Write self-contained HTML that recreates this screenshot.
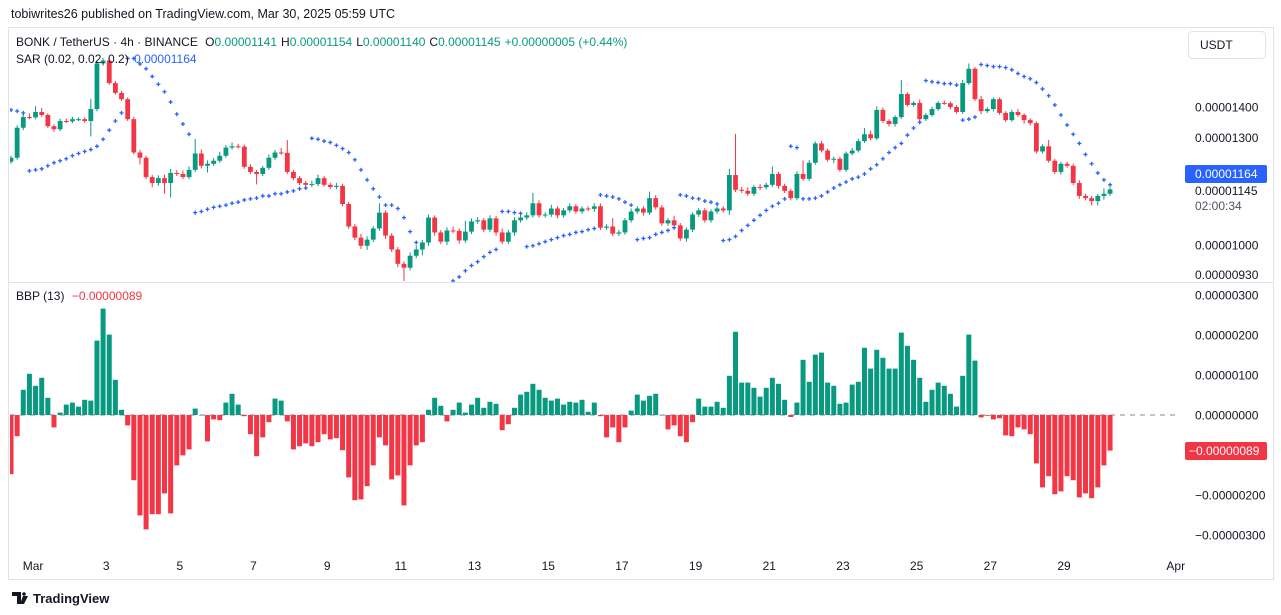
<!DOCTYPE html>
<html><head><meta charset="utf-8"><style>
html,body{margin:0;padding:0;background:#fff;width:1281px;height:615px;overflow:hidden;font-family:"Liberation Sans",sans-serif;}
svg text{font-family:"Liberation Sans",sans-serif;}
</style></head><body>
<svg id="chart" width="1281" height="615" viewBox="0 0 1281 615" xmlns="http://www.w3.org/2000/svg">
<rect x="0" y="0" width="1281" height="615" fill="#fff"/>
<text x="11" y="18" font-size="12.5" fill="#131722">tobiwrites26 published on TradingView.com, Mar 30, 2025 05:59 UTC</text>
<rect x="8.5" y="27.5" width="1265" height="552" fill="none" stroke="#e0e3eb"/>
<line x1="8" y1="282.5" x2="1273" y2="282.5" stroke="#e0e3eb"/>
<g id="pricePane"></g>
<g id="bbpPane"></g>
<g id="axes"></g>
<text x="16" y="46" font-size="12" fill="#131722">BONK / TetherUS · 4h · BINANCE <tspan dx="4">O</tspan><tspan fill="#089981">0.00001141</tspan><tspan dx="4">H</tspan><tspan fill="#089981">0.00001154</tspan><tspan dx="4">L</tspan><tspan fill="#089981">0.00001140</tspan><tspan dx="4">C</tspan><tspan fill="#089981">0.00001145</tspan><tspan dx="4" fill="#089981">+0.00000005 (+0.44%)</tspan></text>
<text x="16" y="63" font-size="12" fill="#131722">SAR (0.02, 0.02, 0.2) <tspan dx="2" fill="#2962ff">0.00001164</tspan></text>
<text x="16" y="300" font-size="12" fill="#131722">BBP (13) <tspan dx="4" fill="#f23645">−0.00000089</tspan></text>
<g><rect x="1188.5" y="31.5" width="77" height="27" rx="4" fill="#fff" stroke="#e0e3eb"/><text x="1200" y="49" font-size="12" fill="#131722">USDT</text></g>
<g><path d="M12 592h9v12h-4v-8h-5z M23 596h5l-4 8h-4z" fill="#131722"/><circle cx="24" cy="594" r="1.8" fill="#131722"/><text x="33" y="603" font-size="13" font-weight="bold" fill="#131722">TradingView</text></g>
</svg>
<script>
// ---- data (prices in units of 1e-8 USDT) ----
const closes = [1237,
1331,1366,1365,1383,1373,1336,1326,1353,1352,1359,
1359,1353,1393,1557,1568,1484,1449,1427,1359,1253,
1237,1180,1163,1177,1163,1192,1189,1180,1201,1250,
1213,1219,1228,1243,1268,1272,1271,1210,1195,1189,
1207,1237,1253,1252,1195,1177,1163,1158,1160,1177,
1158,1152,1155,1105,1046,1018,998,1013,1041,1082,
1023,989,955,946,974,989,1006,1069,1031,1008,
1036,1035,1011,1033,1059,1062,1038,1067,1031,1008,
1031,1062,1069,1075,1107,1075,1077,1093,1075,1088,
1099,1085,1093,1092,1099,1043,1046,1028,1031,1062,
1085,1093,1082,1121,1096,1054,1062,1049,1016,1038,
1077,1088,1062,1085,1093,1088,1186,1144,1141,1133,
1152,1151,1158,1189,1155,1141,1121,1189,1175,1222,
1281,1259,1231,1234,1201,1250,1259,1288,1310,1297,
1390,1353,1343,1366,1445,1407,1414,1359,1373,1393,
1414,1413,1400,1383,1484,1537,1427,1386,1393,1427,
1380,1356,1383,1373,1356,1346,1256,1272,1228,1195,
1219,1213,1163,1127,1121,1113,1127,1133,1145];
const firstOpen = 1225;
const wickUp = [6,
8,10,12,20,14,6,6,8,8,8,
6,6,35,10,10,8,8,8,6,8,
8,6,6,8,10,12,8,10,10,45,
12,10,8,12,8,12,8,6,8,6,
6,10,8,14,40,6,6,6,10,10,
6,6,8,6,6,6,10,8,6,25,
6,6,6,6,8,10,6,8,6,6,
8,10,6,28,8,8,6,8,6,10,
6,8,10,8,28,8,6,10,6,6,
8,6,6,6,8,8,6,22,6,6,
8,6,6,18,8,6,6,12,6,6,
6,6,6,6,6,6,18,125,8,10,
6,8,6,22,6,6,6,8,40,8,
6,8,6,6,6,6,8,8,20,12,
12,8,6,6,50,6,6,12,6,8,
6,8,6,6,12,20,6,12,6,6,
6,6,8,10,6,6,6,6,20,6,
6,6,6,8,6,6,6,15,6];
const wickDn = [6,
6,8,6,6,6,6,8,6,6,6,
6,6,50,8,8,6,6,6,6,6,
20,6,12,8,30,40,6,6,6,6,
8,20,6,6,6,6,6,6,6,30,
6,6,6,6,6,6,6,6,6,6,
6,6,6,6,6,6,8,10,6,6,
8,6,8,30,6,6,14,8,8,6,
8,6,8,6,6,6,6,6,8,6,
6,8,6,6,6,6,6,6,8,6,
6,6,6,6,8,6,6,6,6,6,
6,6,8,6,6,6,6,6,6,8,
6,6,6,6,6,6,12,6,6,6,
6,8,6,6,8,6,6,6,6,6,
6,6,6,10,6,6,6,6,6,6,
6,6,8,8,6,6,6,6,6,6,
6,6,8,6,6,6,6,10,6,8,
6,6,6,6,12,8,6,6,6,6,
8,6,6,8,6,12,12,10,6];
const sar = [1390,
1386,1380,1198,1201,1204,1213,1222,1228,1234,1243,
1250,1256,1262,1272,1294,1323,1353,1380,1576,1576,
1555,1537,1508,1480,1453,1417,1376,1343,1310,1082,
1085,1091,1096,1099,1102,1107,1110,1116,1119,1121,
1127,1127,1133,1133,1138,1141,1147,1149,1297,1294,
1288,1284,1275,1265,1253,1231,1201,1172,1147,1124,
1102,1102,1093,1069,1033,1006,871,881,890,898,
907,916,925,939,951,960,972,982,989,1085,
1085,1082,1080,996,998,1003,1008,1013,1018,1023,
1026,1031,1033,1038,1041,1130,1127,1124,1119,1110,
1102,1013,1016,1018,1026,1031,1036,1043,1130,1127,
1121,1119,1113,1110,1105,1011,1013,1021,1036,1049,
1062,1075,1088,1099,1107,1119,1272,1268,1119,1119,
1121,1127,1138,1149,1158,1166,1175,1180,1189,1204,
1216,1234,1253,1268,1281,1307,1330,1349,1493,1489,
1486,1482,1482,1477,1356,1359,1366,1553,1549,1545,
1545,1541,1533,1519,1508,1500,1486,1463,1439,1407,
1373,1340,1310,1281,1247,1219,1192,1172,1158];
const bbp = [
-148,-53,63,103,73,93,43,-31,6,26,
31,21,38,36,186,266,201,88,13,-26,
-163,-251,-286,-248,-248,-196,-246,-126,-101,-86,
16,0,-66,-11,-13,31,53,26,-3,-48,
-103,-56,-18,41,36,-16,-86,-78,-71,-78,
-68,-48,-61,-58,-88,-156,-213,-211,-178,-126,
-56,-76,-161,-151,-226,-126,-76,-68,13,43,
23,-16,13,31,6,26,43,18,33,28,
-38,-23,18,51,58,78,63,43,36,41,
26,33,31,38,8,31,-3,-56,-31,-68,
-31,11,51,36,48,53,0,-36,-26,-53,
-68,-18,41,21,21,33,18,98,208,81,
81,68,46,68,93,78,38,-5,31,138,
83,151,156,81,73,28,31,76,83,168,
116,163,143,116,116,206,173,138,93,33,
63,81,73,53,21,98,201,136,-6,-2,
-11,-8,-51,-53,-31,-36,-48,-121,-181,-153,
-198,-191,-153,-163,-206,-196,-208,-181,-126,-89];
const priceTicks = [1400,1300,1000,930];
const priceTickLabels = ["0.00001400","0.00001300","0.00001000","0.00000930"];
const bbpTicks = [300,200,100,0,-200,-300];
const bbpTickLabels = ["0.00000300","0.00000200","0.00000100","0.00000000","−0.00000200","−0.00000300"];
const dayLabels = ["Mar","3","5","7","9","11","13","15","17","19","21","23","25","27","29","Apr"];
const dayLabelIndex = [3.6,15.5,27.5,39.5,51.5,63.5,75.5,87.5,99.5,111.5,123.5,135.5,147.5,159.5,171.5,189.7];

// ---- axis functions ----
const NS = "http://www.w3.org/2000/svg";
function xi(i){ return 11 + i*6.14; }
function yP(v){ return 107 + 410*Math.log(1400/v); }
function yB(v){ return 415 - v*0.4; }
function mk(tag, attrs, parent){ const e=document.createElementNS(NS,tag); for(const k in attrs) e.setAttribute(k,attrs[k]); parent.appendChild(e); return e; }

const svg = document.getElementById('chart');
const defs = mk('defs',{},svg);
const c1 = mk('clipPath',{id:'clipP'},defs); mk('rect',{x:10,y:28,width:1170,height:254},c1);
const c2 = mk('clipPath',{id:'clipB'},defs); mk('rect',{x:10,y:283,width:1170,height:268},c2);
const c3 = mk('clipPath',{id:'clipA'},defs); mk('rect',{x:1180,y:28,width:100,height:254},c3);
const pp = document.getElementById('pricePane'); pp.setAttribute('clip-path','url(#clipP)');
const bp = document.getElementById('bbpPane'); bp.setAttribute('clip-path','url(#clipB)');
const ax = document.getElementById('axes');
const axP = mk('g',{'clip-path':'url(#clipA)'},ax);

// candles
for(let i=0;i<closes.length;i++){
  const o = i===0 ? firstOpen : closes[i-1];
  const c = closes[i];
  const hi = Math.max(o,c)+wickUp[i], lo = Math.min(o,c)-wickDn[i];
  const col = c>=o ? '#089981' : '#f23645';
  const x = xi(i);
  const g = mk('g',{},pp);
  
  
  mk('line',{x1:x,x2:x,y1:yP(hi),y2:yP(lo),stroke:col,'stroke-width':1},g);
  const yt=yP(Math.max(o,c)), yb=yP(Math.min(o,c));
  mk('rect',{x:x-2.4,y:yt,width:4.8,height:Math.max(1,yb-yt),fill:col},g);
}
// SAR
for(let i=0;i<sar.length;i++){
  const x=xi(i), y=yP(sar[i]);
  const p = mk('path',{d:`M${x-2} ${y}h4M${x} ${y-2}v4`,stroke:'#2962ff','stroke-width':1.3},pp);
  
  
}
// BBP zero line
const zl = mk('line',{x1:10,x2:1180,y1:yB(0),y2:yB(0),stroke:'#888','stroke-width':1,'stroke-dasharray':'5 5'},bp);


// BBP bars
for(let i=0;i<bbp.length;i++){
  const v=bbp[i], x=xi(i), y0=yB(0), y1=yB(v);
  const r = mk('rect',{x:x-2.5,y:Math.min(y0,y1),width:5,height:Math.max(0.5,Math.abs(y1-y0)),fill:v>=0?'#089981':'#f23645'},bp);
  
  
}
// price axis
priceTicks.forEach((v,k)=>{
  const t = mk('text',{x:1195,y:yP(v)+4.5,'font-size':12,fill:'#131722'},axP);
  t.textContent = priceTickLabels[k];
  
  
});
// current price badges
{
  const g = mk('g',{},ax);
  
  
  mk('rect',{x:1185,y:165,width:82,height:18,rx:2,fill:'#2962ff'},g);
  const t = mk('text',{x:1195,y:178,'font-size':12,fill:'#fff'},g); t.textContent='0.00001164';
  const t2 = mk('text',{x:1195,y:195,'font-size':12,fill:'#131722'},ax); t2.textContent='0.00001145';
  
  
  const t3 = mk('text',{x:1195,y:210,'font-size':12,fill:'#50535e'},ax); t3.textContent='02:00:34';
  
  
}
// bbp axis
bbpTicks.forEach((v,k)=>{
  const t = mk('text',{x:1195,y:yB(v)+4.5,'font-size':12,fill:'#131722'},ax);
  t.textContent = bbpTickLabels[k];
  
  
});
{
  const g = mk('g',{},ax);
  
  
  mk('rect',{x:1185,y:442,width:82,height:18,rx:2,fill:'#f23645'},g);
  const t = mk('text',{x:1189,y:455,'font-size':12,fill:'#fff'},g); t.textContent='−0.00000089';
}
// time axis
dayLabels.forEach((s,k)=>{
  const t = mk('text',{x:xi(dayLabelIndex[k]),y:570,'font-size':12,fill:'#131722','text-anchor':'middle'},ax);
  t.textContent = s;
  
  
});
</script>
</body></html>
